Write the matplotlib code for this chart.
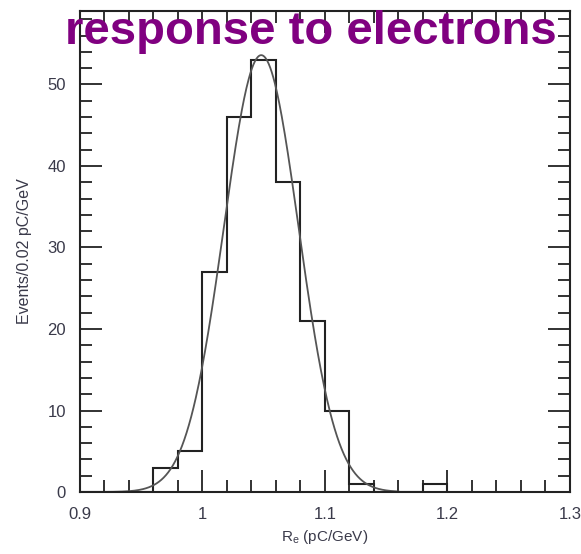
import numpy as np
import matplotlib.pyplot as plt
from matplotlib.ticker import MultipleLocator

plt.rcParams['font.family'] = ['Liberation Sans', 'DejaVu Sans']

# histogram of electron response, bins of 0.02 pC/GeV
bin_edges = [0.90, 0.92, 0.94, 0.96, 0.98, 1.00, 1.02, 1.04, 1.06, 1.08,
             1.10, 1.12, 1.14, 1.16, 1.18, 1.20]
counts = [0, 0, 0, 3, 5, 27, 46, 53, 38, 21, 10, 1, 0, 0, 1]

# gaussian fit
fit_amp = 53.6
fit_mean = 1.048
fit_sigma = 0.0305
fit_range = (0.91, 1.16)

fig = plt.figure(figsize=(5.81, 5.54), dpi=100)
ax = fig.add_axes([0.1377, 0.1119, 0.843, 0.868])

xf = np.linspace(fit_range[0], fit_range[1], 400)
yf = fit_amp * np.exp(-0.5 * ((xf - fit_mean) / fit_sigma) ** 2)
ax.plot(xf, yf, color='#555555', lw=1.3)

ax.stairs(counts, bin_edges, color='#222222', lw=1.5)

ax.set_xlim(0.9, 1.3)
ax.set_ylim(0, 59)
ax.xaxis.set_major_locator(MultipleLocator(0.1))
ax.xaxis.set_minor_locator(MultipleLocator(0.02))
ax.yaxis.set_major_locator(MultipleLocator(10))
ax.yaxis.set_minor_locator(MultipleLocator(2))
ax.set_xticks([0.9, 1.0, 1.1, 1.2, 1.3])
ax.set_xticklabels(['0.9', '1', '1.1', '1.2', '1.3'])
ax.tick_params(which='both', direction='in', top=True, right=True,
               colors='#222222', labelcolor='#3a3a4a', labelsize=12, width=1.3)
ax.tick_params(which='major', length=16)
ax.tick_params(axis='x', which='major', pad=11)
ax.tick_params(axis='y', which='major', pad=10)
ax.tick_params(which='minor', length=8.5)
for s in ax.spines.values():
    s.set_linewidth(1.5)
    s.set_color('#222222')

ax.set_xlabel('R$_\\mathregular{e}$ (pC/GeV)', fontsize=11, color='#3a3a4a', labelpad=4)
ax.set_ylabel('Events/0.02 pC/GeV', fontsize=11.5, color='#3a3a4a', labelpad=11)

fig.text(0.535, 0.943, 'response to electrons', color='#800080', fontsize=34,
         fontweight='bold', ha='center', va='center')

fig.savefig('out.png', dpi=100)
